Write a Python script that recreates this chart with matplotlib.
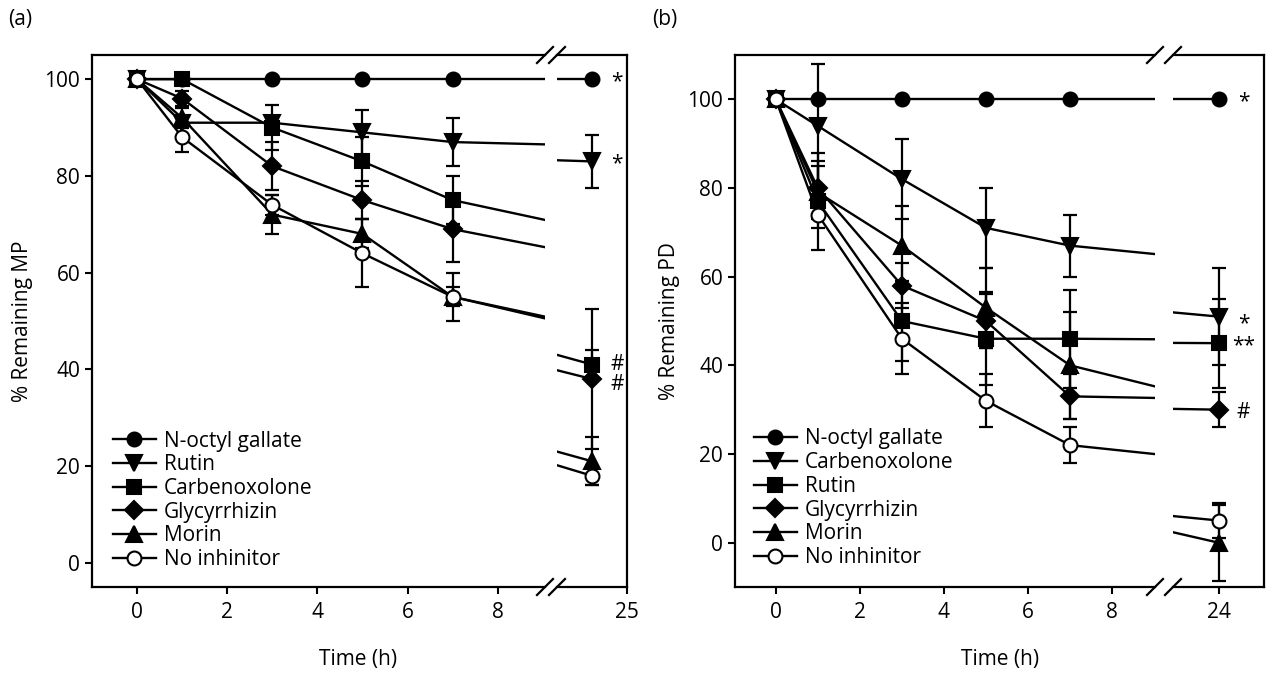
import numpy as np
import matplotlib.pyplot as plt

plt.rcParams['font.family'] = ['Open Sans', 'DejaVu Sans']
plt.rcParams['font.size'] = 15

# sampling times (h)
hours = [0, 1, 3, 5, 7, 24]

# (a) % remaining MP
mp_octyl = [100, 100, 100, 100, 100, 100]
mp_rutin = [100, 91, 91, 89, 87, 83]
mp_carb = [100, 100, 90, 83, 75, 41]
mp_glyc = [100, 96, 82, 75, 69, 38]
mp_morin = [100, 92, 72, 68, 55, 21]
mp_none = [100, 88, 74, 64, 55, 18]
mp_octyl_err = [0, 0, 0, 0, 0, 0]
mp_rutin_err = [0, 0, 0, 4.6, 5, 5.5]
mp_carb_err = [0, 0, 4.6, 5, 5, 3]
mp_glyc_err = [0, 1.5, 5, 4, 6.7, 14.5]
mp_morin_err = [0, 2, 4, 3, 2, 5]
mp_none_err = [0, 3, 2, 7, 5, 2]

# (b) % remaining PD
pd_octyl = [100, 100, 100, 100, 100, 100]
pd_carb = [100, 94, 82, 71, 67, 51]
pd_rutin = [100, 77, 50, 46, 46, 45]
pd_glyc = [100, 80, 58, 50, 33, 30]
pd_morin = [100, 79, 67, 53, 40, 0]
pd_none = [100, 74, 46, 32, 22, 5]
pd_octyl_err = [0, 0, 0, 0, 0, 0]
pd_carb_err = [0, 14, 9, 9, 7, 11]
pd_rutin_err = [0, 11, 9, 10.5, 11, 10]
pd_glyc_err = [0, 6, 5, 6, 5, 4]
pd_morin_err = [0, 6, 9, 9, 12, 8.6]
pd_none_err = [0, 3, 8, 6, 4, 4]

# significance marks at 24 h
mp_marks = [('*', 100), ('*', 83), ('#', 41.5), ('#', 37.5)]
pd_marks = [('*', 100), ('*', 50), ('**', 45), ('#', 30)]

# marker style by legend position (marker, face, size)
styles = [('o', 'k', 10), ('v', 'k', 11), ('s', 'k', 10),
          ('D', 'k', 9.5), ('^', 'k', 11), ('o', 'white', 10)]

fig = plt.figure(figsize=(12.66, 6.74), dpi=100)


def box(x0, x1, y0, y1):
    # pixel box -> figure fraction
    return [x0 / 1266, 1 - y1 / 674, (x1 - x0) / 1266, (y1 - y0) / 674]


def slash(ax, x0):
    w, h = ax.bbox.width, ax.bbox.height
    for y0 in (0, 1):
        ax.plot([x0 - 8 / w, x0 + 8 / w], [y0 - 8 / h, y0 + 8 / h],
                transform=ax.transAxes, color='k', lw=1.6, clip_on=False)


def panel(axl, axr, series, ylim, yticks, xl, xr, rtick, ylabel, marks, leg_xy):
    for ax in (axl, axr):
        for i, (lab, y, e) in enumerate(series):
            mk, face, ms = styles[i]
            err = np.array(e, dtype=float)
            err[err == 0] = np.nan
            ax.errorbar(hours, y, yerr=err, fmt='none', ecolor='k',
                        elinewidth=1.6, capsize=5, capthick=1.6, zorder=2)
            ax.plot(hours, y, color='k', lw=1.7, marker=mk, ms=ms, mfc=face,
                    mec='k', mew=1.5, label=lab, zorder=3 + i)
        ax.set_ylim(ylim)
        ax.tick_params(direction='out', length=5, width=1.5, labelsize=15)
        ax.tick_params(axis='x', pad=6)
        for s in ax.spines.values():
            s.set_linewidth(1.6)
    axl.set_xlim(xl)
    axl.set_xticks([0, 2, 4, 6, 8])
    axl.set_yticks(yticks)
    axl.spines['right'].set_visible(False)
    axr.set_xlim(xr)
    axr.set_xticks([rtick])
    axr.set_yticks([])
    axr.spines['left'].set_visible(False)
    axl.set_ylabel(ylabel, fontsize=15)
    axl.yaxis.set_label_coords(-0.131, 0.5)
    slash(axl, 1.0)
    slash(axr, 0.0)
    for s, v in marks:
        axr.annotate(s, xy=(24, v), xytext=(18, -2), textcoords='offset points',
                     ha='center', va='center', fontsize=15, annotation_clip=False)
    axl.legend(loc='upper left', bbox_to_anchor=leg_xy, frameon=False,
               borderaxespad=0, borderpad=0, handlelength=2.07,
               handletextpad=0.38, labelspacing=0.13, fontsize=15)


a_left = fig.add_axes(box(92, 545, 55, 587))
a_right = fig.add_axes(box(557, 627, 55, 587))
b_left = fig.add_axes(box(735, 1155, 55, 587))
b_right = fig.add_axes(box(1173, 1264, 55, 587))

mp_series = [
    ('N-octyl gallate', mp_octyl, mp_octyl_err),
    ('Rutin', mp_rutin, mp_rutin_err),
    ('Carbenoxolone', mp_carb, mp_carb_err),
    ('Glycyrrhizin', mp_glyc, mp_glyc_err),
    ('Morin', mp_morin, mp_morin_err),
    ('No inhinitor', mp_none, mp_none_err),
]
pd_series = [
    ('N-octyl gallate', pd_octyl, pd_octyl_err),
    ('Carbenoxolone', pd_carb, pd_carb_err),
    ('Rutin', pd_rutin, pd_rutin_err),
    ('Glycyrrhizin', pd_glyc, pd_glyc_err),
    ('Morin', pd_morin, pd_morin_err),
    ('No inhinitor', pd_none, pd_none_err),
]

panel(a_left, a_right, mp_series, (-5, 105), [0, 20, 40, 60, 80, 100],
      (-1, 9.05), (23, 25), 25, '% Remaining MP', mp_marks, (0.046, 0.294))
panel(b_left, b_right, pd_series, (-10, 110), [0, 20, 40, 60, 80, 100],
      (-0.97, 9.02), (23, 25), 24, '% Remaining PD', pd_marks, (0.045, 0.298))

fig.text(358 / 1266, 1 - 660 / 674, 'Time (h)', ha='center', va='center', fontsize=15)
fig.text(1000 / 1266, 1 - 660 / 674, 'Time (h)', ha='center', va='center', fontsize=15)
fig.text(8 / 1266, 1 - 20 / 674, '(a)', ha='left', va='center', fontsize=15)
fig.text(652 / 1266, 1 - 20 / 674, '(b)', ha='left', va='center', fontsize=15)

fig.savefig('out.png', dpi=100)
